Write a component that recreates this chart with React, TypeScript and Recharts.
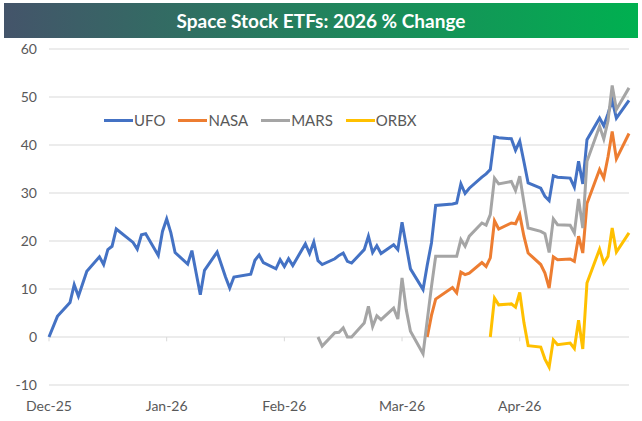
import { CartesianGrid, Line, LineChart, ReferenceLine, XAxis, YAxis } from 'recharts';

// trading days from the last close of 2025 to the latest close
const START = '2025-12-31';
const END = '2026-05-18';
const HOLIDAYS = ['2026-01-01', '2026-01-19', '2026-02-16', '2026-04-03'];
const MONTHS = ['Jan', 'Feb', 'Mar', 'Apr', 'May', 'Jun', 'Jul', 'Aug', 'Sep', 'Oct', 'Nov', 'Dec'];
const DAY = 86400000;

// % change YTD, one value per trading day from each fund's first day
const ufo = [
  0,
  4.3, 7.2, 10.9, 8.5, 11.1, 13.7, 16.7, 15.1, 18.2, 18.9, 22.5, 19.7, 18.3, 21.3, 21.5, 17.0, 22.0, 24.6, 21.7, 17.6,
  15.2, 18.0, 13.4, 8.8, 13.9, 17.7, 15.1, 12.5, 10.2, 12.5, 13.1, 16.0, 17.1, 15.5, 14.2, 16.1, 14.7, 16.3, 14.9,
  19.4, 17.4, 19.8, 15.9, 15.1, 16.3, 17.0, 17.5, 15.75, 15.4, 18.2, 21.0, 17.6, 19.0, 17.4, 19.2, 18.2, 23.9, 19.0,
  14.2, 9.9, 15.0,
  19.6, 27.4, 27.7, 27.9, 31.9, 29.9, 31.0, 33.3, 34.0, 34.9, 41.7, 41.5, 41.3, 38.9, 40.8, 36.5, 32.1, 31.0, 29.3,
  28.4, 33.6,
  33.3, 33.1, 31.2, 36.6, 31.9, 41.1, 45.6, 44.0, 46.5, 49.3, 45.6, 49.3,
];
const nasa = [
  0,
  4.5, 7.9, 10.3, 9.2, 13.5, 13.0, 13.3, 15.5, 14.7, 16.5, 24.2, 22.5, 23.75, 23.6, 25.5, 21.0, 17.5, 15.1, 13.3,
  10.2, 16.7,
  16.1, 16.25, 15.75, 21.0, 17.5, 27.8, 34.9, 33.1, 37.5, 42.8, 37.1, 42.4,
];
const mars = [
  0, -1.9, 0.9, 1.0, 1.9, 0, 0, 2.9, 6.4, 2.2, 4.4, 3.6, 6.0, 3.75, 12.3, 5.7, 1.2, -3.5, 3.5,
  10.5, 16.8, 16.8, 16.8, 20.3, 18.9, 21.0, 23.75, 23.3, 25.5, 33.1, 31.9, 32.4, 30.5, 33.5, 28.0, 22.7, 22.0, 21.5,
  17.6, 24.6,
  23.4, 23.3, 21.7, 28.75, 22.7, 36.6, 43.9, 41.25, 45.0, 52.4, 47.4, 51.9,
];
const orbx = [
  0, 8.1, 6.7, 6.9, 6.2, 9.3, 3.0, -1.8, -2.1, -4.6, -6.25, -0.6,
  -1.6, -1.25, -2.4, 3.5, -2.5, 11.25, 18.3, 15.4, 16.8, 22.7, 17.7, 21.7,
];

const series = [
  { key: 'UFO', color: '#4472C4', start: '2025-12-31', values: ufo },
  { key: 'NASA', color: '#ED7D31', start: '2026-03-31', values: nasa },
  { key: 'MARS', color: '#A5A5A5', start: '2026-03-05', values: mars },
  { key: 'ORBX', color: '#FFC000', start: '2026-04-15', values: orbx },
];

const yTicks = [-10, 0, 10, 20, 30, 40, 50, 60];
const xTicks = [0, 28, 56, 84, 112];

function tradingDays() {
  const out: string[] = [];
  for (let t = Date.parse(START); t <= Date.parse(END); t += DAY) {
    const dt = new Date(t);
    const wd = dt.getUTCDay();
    const iso = dt.toISOString().slice(0, 10);
    if (wd !== 0 && wd !== 6 && !HOLIDAYS.includes(iso)) out.push(iso);
  }
  return out;
}

const dates = tradingDays();
const data = dates.map((iso, i) => {
  const row: Record<string, number | null> = { d: (Date.parse(iso) - Date.parse(START)) / DAY };
  for (const s of series) {
    const k = i - dates.indexOf(s.start);
    row[s.key] = k >= 0 && k < s.values.length ? s.values[k] : null;
  }
  return row;
});

function fmtDay(d: number) {
  const dt = new Date(Date.parse(START) + d * DAY);
  return `${MONTHS[dt.getUTCMonth()]}-${String(dt.getUTCFullYear()).slice(2)}`;
}

const font = 'Lato, "Open Sans", sans-serif';

export default function App() {
  return (
    <div style={{ position: 'absolute', left: 0, top: 0, width: 642, height: 421, background: '#fff', fontFamily: font }}>
      <div style={{ position: 'absolute', left: 0, top: 0 }}>
        <LineChart width={642} height={421} data={data} margin={{ top: 49, right: 13, bottom: 6, left: 9 }}>
          <CartesianGrid vertical={false} stroke="#D9D9D9" />
          <XAxis
            dataKey="d"
            type="number"
            domain={[0, 138]}
            ticks={xTicks}
            tickFormatter={fmtDay}
            axisLine={false}
            tickLine={false}
            height={30}
            tickMargin={10}
            tick={{ fill: '#595959', fontSize: 14, fontFamily: font }}
          />
          <YAxis
            domain={[-10, 60]}
            ticks={yTicks}
            width={40}
            axisLine={false}
            tickLine={false}
            tick={{ fill: '#595959', fontSize: 14, fontFamily: font, dx: -4 }}
          />
          {xTicks.map((t) => (
            <ReferenceLine key={t} segment={[{ x: t, y: 0 }, { x: t, y: -0.9 }]} stroke="#D9D9D9" />
          ))}
          {series.map((s) => (
            <Line
              key={s.key}
              dataKey={s.key}
              type="linear"
              stroke={s.color}
              strokeWidth={3}
              dot={false}
              isAnimationActive={false}
            />
          ))}
        </LineChart>
      </div>
      <div
        style={{
          position: 'absolute',
          left: 4,
          top: 3,
          width: 634,
          height: 35,
          background: 'linear-gradient(90deg, #44546A, #00B050)',
          color: '#fff',
          fontWeight: 700,
          fontSize: 19,
          display: 'flex',
          alignItems: 'center',
          justifyContent: 'center',
        }}
      >
        Space Stock ETFs: 2026 % Change
      </div>
      <div
        style={{
          position: 'absolute',
          left: 104,
          top: 111,
          display: 'flex',
          alignItems: 'center',
          fontSize: 15,
          lineHeight: '18px',
          color: '#595959',
        }}
      >
        {series.map((s) => (
          <div key={s.key} style={{ display: 'flex', alignItems: 'center', marginRight: 13 }}>
            <span style={{ display: 'inline-block', width: 29, height: 3, background: s.color, marginRight: 1 }} />
            {s.key}
          </div>
        ))}
      </div>
    </div>
  );
}
